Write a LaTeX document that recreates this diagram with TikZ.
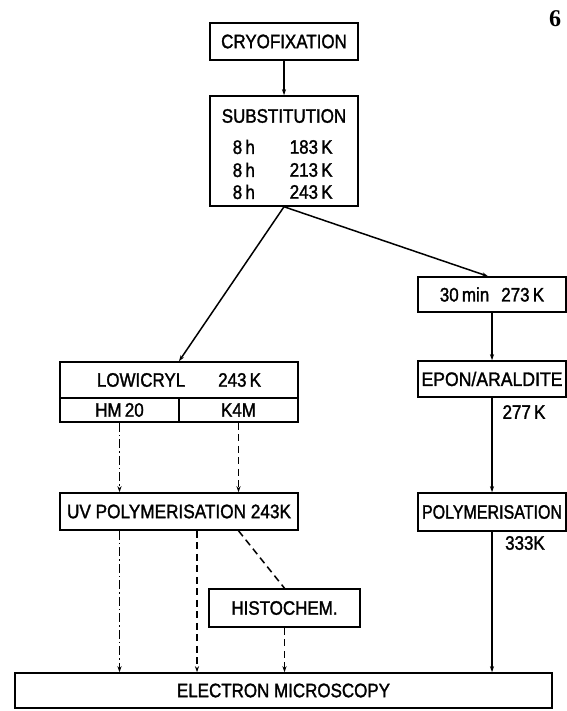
\documentclass[tikz,border=0pt]{standalone}
\usepackage{fontspec}
\usepackage{graphicx}
\setmainfont{Liberation Sans}[FakeStretch=0.87,FakeBold=1.5]
\newfontfamily\numfont{Liberation Serif}
\usetikzlibrary{arrows.meta,calc}
\newcommand\lbl{\fontsize{19.5}{21}\selectfont}
\begin{document}
\begin{tikzpicture}[x=1pt,y=-1pt,line width=1.5pt,
  box/.style={draw,inner sep=0pt,font=\lbl,anchor=center},
  txt/.style={inner sep=0pt,font=\lbl},
  arr/.style={-{Stealth[length=6pt,width=4pt]}},
  dashdot/.style={dash pattern=on 9pt off 3pt on 1.5pt off 3pt},
  dsh/.style={dash pattern=on 7pt off 4.5pt}]
\useasboundingbox (0,0) rectangle (566,711);

\node[inner sep=0pt,font=\numfont\bfseries\fontsize{24}{26}\selectfont] (num) at (555,19) {6};

\node[box,minimum width=148pt,minimum height=37pt] (cryo) at (284,41.5) {CRYOFIXATION};
\node[box,minimum width=148pt,minimum height=110pt] (sub) at (284,151) {};
\node[txt] (subt) at (284,116) {SUBSTITUTION};
\node[txt,anchor=west] (h1) at (232,147) {8\,h};
\node[txt,anchor=west] (h2) at (232,170) {8\,h};
\node[txt,anchor=west] (h3) at (232,192) {8\,h};
\node[txt,anchor=west] (k1) at (289,147) {183\,K};
\node[txt,anchor=west] (k2) at (289,170) {213\,K};
\node[txt,anchor=west] (k3) at (289,192) {243\,K};

\node[box,minimum width=148pt,minimum height=35pt] (min) at (492,294.5) {30\,min\hspace{12pt}273\,K};
\node[box,minimum width=148pt,minimum height=36pt] (epon) at (492,379) {\resizebox{141pt}{\height}{EPON/ARALDITE}};
\node[txt] (t277) at (524,412) {277\,K};
\node[box,minimum width=148pt,minimum height=38pt] (poly) at (492,512) {\resizebox{140pt}{\height}{POLYMERISATION}};
\node[txt] (t333) at (525,543) {333K};

\node[box,minimum width=238pt,minimum height=36pt] (low) at (179,380) {LOWICRYL\hspace{33pt}243\,K};
\node[box,minimum width=119pt,minimum height=24pt] (hm) at (119.5,410) {HM\,20};
\node[box,minimum width=119pt,minimum height=24pt] (k4m) at (238.5,410) {K4M};

\node[box,minimum width=238pt,minimum height=37pt] (uv) at (179,511.5) {\resizebox{224pt}{\height}{UV POLYMERISATION 243K}};
\node[box,minimum width=151pt,minimum height=38pt] (histo) at (284.5,608) {HISTOCHEM.};
\node[box,minimum width=537pt,minimum height=35pt] (em) at (283.5,690.5) {ELECTRON MICROSCOPY};

\coordinate (dx) at (197,0);

\draw[arr] (cryo.south) -- (sub.north);
\draw[arr] (sub.south) -- (low.north);
\draw[arr] (sub.south) -- ([xshift=-4pt]min.north);
\draw[arr] (min.south) -- (epon.north);
\draw[arr] (epon.south) -- (poly.north);
\draw[arr] (poly.south) -- (poly.south |- em.north);

\draw[arr,dashdot] (hm.south) -- (hm.south |- uv.north);
\draw[arr,dsh] (k4m.south) -- (k4m.south |- uv.north);
\draw[arr,dashdot] (hm.south |- uv.south) -- (hm.south |- em.north);
\draw[arr,dsh] (dx |- uv.south) -- (dx |- em.north);
\draw[dsh] (k4m.south |- uv.south) -- (histo.north);
\draw[arr,dsh] (histo.south) -- (histo.south |- em.north);
\end{tikzpicture}
\end{document}
